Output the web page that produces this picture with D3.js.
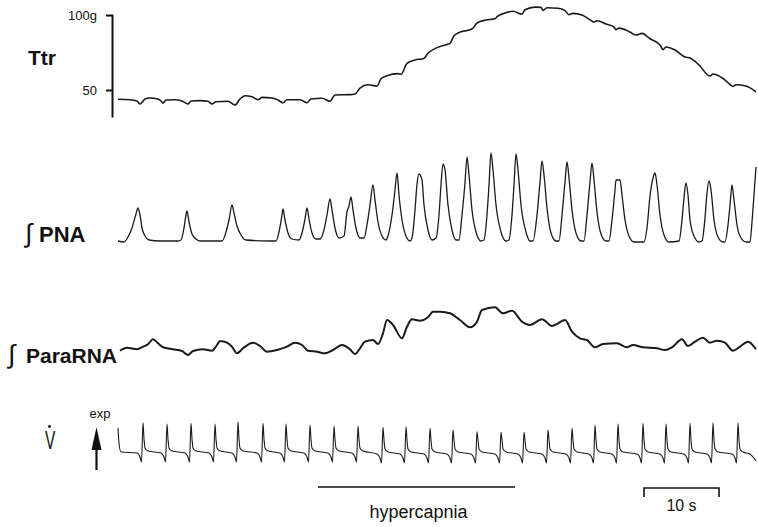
<!DOCTYPE html>
<html>
<head>
<meta charset="utf-8">
<script src="https://cdn.jsdelivr.net/npm/d3@7"></script>
<style>
  body { margin: 0; background: #fff; }
  svg text { font-family: "Liberation Sans", Arial, Helvetica, sans-serif; fill: #111; }
</style>
</head>
<body>
<svg id="chart" width="758" height="527"></svg>
<script>
// recording digitised at 7.5 samples per second, x values are sample indices
const sampleRate = 7.5

// tracheal tension (g)
const ttr = [
  [0, 43.8], [12, 43.5], [19, 42.7], [22, 40.7], [27, 44.0], [32, 44.7], [39, 44.2], [43, 42.7],
  [45, 41.3], [48, 43.3], [57, 43.5], [64, 42.7], [70, 40.7], [73, 42.7], [82, 42.9], [90, 42.5],
  [94, 40.7], [98, 42.2], [110, 42.5], [117, 40.0], [122, 44.0], [127, 46.2], [134, 45.5], [140, 43.5],
  [144, 45.1], [154, 44.7], [160, 43.3], [165, 41.5], [169, 43.5], [182, 43.5], [189, 41.5], [193, 44.0],
  [204, 44.5], [212, 42.5], [217, 46.7], [232, 46.9], [237, 47.3], [242, 51.3], [250, 53.5], [259, 52.7],
  [263, 57.5], [269, 59.5], [280, 60.9], [283, 60.5], [289, 67.8], [297, 70], [306, 71.1], [310, 74.5],
  [316, 77.3], [328, 80.2], [332, 81.1], [336, 86.2], [343, 88.9], [351, 90], [355, 91.3], [359, 94.7],
  [368, 96.7], [377, 97.5], [379, 98.9], [387, 101.3], [395, 102.5], [404, 100.5], [407, 103.5], [417, 105.3],
  [423, 105.1], [425, 103.1], [429, 104.9], [440, 104.5], [447, 102.9], [451, 100.2], [455, 101.1], [464, 100],
  [472, 96.9], [476, 95.3], [479, 96.2], [489, 93.8], [496, 92], [498, 90.2], [501, 91.3], [512, 88.7],
  [518, 86.7], [524, 87.8], [532, 84.2], [542, 80], [545, 76.9], [548, 78.7], [557, 76.7], [567, 72],
  [572, 71.3], [581, 66.7], [592, 59.3], [595, 60.7], [606, 57.3], [615, 52.5], [618, 53.5], [628, 52.7],
  [638, 48.7]
]
const ttrTicks = [50, 100]

// integrated phrenic nerve activity (a.u.)
const pna = [
  [0, 2], [6, 1], [10, 6], [14, 15], [18, 29], [20, 35], [22, 28], [24, 15], [27, 7], [31, 3], [42, 2],
  [60, 2], [63, 3], [66, 15], [68, 28], [69, 32], [71, 21], [74, 9], [78, 4], [82, 2],
  [104, 2], [108, 11], [111, 23], [114, 38], [116, 30], [119, 17], [123, 8], [128, 3], [152, 2],
  [158, 2], [161, 11], [164, 28], [165, 34], [167, 23], [170, 10], [174, 4],
  [181, 3], [184, 10], [187, 24], [189, 35], [191, 24], [194, 10], [198, 4],
  [202, 4], [206, 13], [209, 28], [212, 44], [214, 33], [217, 15], [221, 5],
  [226, 7], [229, 31], [231, 37], [233, 46], [235, 33], [238, 15], [242, 5],
  [246, 5], [249, 18], [252, 38], [255, 58], [257, 43], [260, 21], [264, 7], [268, 3],
  [270, 7], [274, 28], [277, 53], [279, 70], [281, 48], [284, 23], [288, 7], [292, 2],
  [294, 5], [297, 33], [299, 59], [301, 69], [304, 63], [306, 38], [310, 13], [314, 3],
  [318, 5], [321, 28], [323, 58], [325, 79], [327, 73], [330, 38], [334, 13], [338, 3],
  [341, 3], [344, 28], [347, 60], [349, 86], [351, 68], [354, 33], [358, 11], [363, 2],
  [366, 3], [369, 28], [371, 58], [373, 90], [375, 73], [378, 38], [383, 11], [388, 2],
  [391, 3], [394, 28], [396, 58], [398, 89], [400, 73], [403, 38], [408, 11], [412, 2],
  [415, 2], [419, 28], [422, 61], [424, 82], [426, 68], [429, 35], [433, 10], [438, 2],
  [441, 2], [444, 28], [447, 61], [449, 81], [451, 65], [454, 33], [458, 10], [463, 2],
  [466, 2], [469, 28], [472, 61], [474, 80], [476, 63], [479, 31], [483, 9], [488, 2],
  [491, 2], [494, 23], [497, 53], [498, 63], [502, 63], [504, 48], [507, 23], [511, 7], [516, 1],
  [526, 1], [529, 15], [532, 47], [535, 65], [537, 70], [539, 58], [542, 28], [546, 8], [551, 1],
  [561, 2], [564, 23], [566, 45], [568, 60], [570, 48], [572, 23], [576, 7], [581, 1],
  [584, 2], [587, 25], [589, 50], [591, 62], [593, 53], [596, 23], [600, 6], [605, 1],
  [607, 1], [610, 18], [612, 38], [614, 58], [616, 43], [619, 18], [623, 5], [628, 1],
  [632, 1], [634, 21], [636, 48], [638, 76]
]

// integrated parasympathetic nerve activity (a.u.)
const paraRna = [
  [2, 9.3], [9, 12.3], [19, 10.7], [25, 13.3], [30, 15.7], [35, 20.7], [40, 16.7], [45, 12.7],
  [55, 10.7], [64, 9], [70, 5], [75, 9], [85, 10.7], [94, 9.3], [99, 15], [102, 19],
  [109, 17.3], [114, 13.3], [119, 6.7], [125, 11.7], [135, 17.3], [142, 14], [149, 8.3], [159, 10],
  [169, 13.3], [177, 17.3], [184, 15], [190, 9.3], [199, 8.3], [207, 6.7], [215, 10], [224, 15],
  [232, 10.7], [237, 6], [242, 11.7], [247, 18.3], [255, 20], [260, 16], [265, 26.7], [269, 40],
  [275, 35], [284, 21.7], [289, 33.3], [294, 40.7], [302, 39.3], [310, 42.7], [315, 48.3], [322, 48.3],
  [332, 46.7], [342, 40], [352, 32.7], [359, 38.3], [364, 50], [377, 52.7], [385, 46.7], [394, 49.3],
  [404, 38.3], [412, 35], [424, 40.7], [434, 34], [440, 36.7], [447, 40], [454, 28.3], [462, 21.7],
  [469, 20], [477, 12.7], [485, 16], [499, 16.7], [509, 12.7], [515, 15], [525, 12.7], [539, 11.7],
  [547, 10], [554, 12.7], [564, 20.7], [570, 14], [577, 18.3], [585, 22.3], [592, 17.3], [599, 19.3],
  [607, 17.3], [615, 9.3], [622, 13.3], [630, 18.3], [638, 10.7]
]

// airflow, expiration upward (a.u.)
const vent = [
  [0, 37], [1, 22], [3, 13],
  [19, 12], [22, 8], [23.5, 3], [25, 42.3], [26, 26], [27, 17], [30, 14],
  [43, 12], [46, 8], [47.5, 3], [49, 41], [50, 26], [51, 17], [54, 14],
  [67, 12], [70, 8], [71.5, 3], [73, 41.7], [74, 26], [75, 17], [78, 14],
  [91, 12], [94, 8], [95.5, 3], [97, 41], [98, 26], [99, 17], [102, 14],
  [114, 12], [117, 8], [118.5, 3], [120, 43.3], [121, 26], [122, 17], [125, 14],
  [139, 12], [142, 8], [143.5, 3], [145, 41.7], [146, 26], [147, 17], [150, 14],
  [162, 12], [165, 8], [166.5, 3], [168, 41], [169, 26], [170, 17], [173, 14],
  [186, 12], [189, 8], [190.5, 3], [192, 40], [193, 26], [194, 17], [197, 14],
  [210, 12], [213, 8], [214.5, 3], [216, 39], [217, 26], [218, 17], [221, 14],
  [234, 12], [237, 8], [238.5, 3], [240, 39], [241, 26], [242, 17], [245, 14],
  [259, 11], [262, 7], [263.5, 2], [265, 37.7], [266, 25], [267, 16], [270, 13],
  [282, 11], [285, 7], [286.5, 2], [288, 38.3], [289, 25], [290, 16], [293, 13],
  [306, 11], [309, 7], [310.5, 2], [312, 36.7], [313, 25], [314, 16], [317, 13],
  [329, 11], [332, 7], [333.5, 2], [335, 35], [336, 25], [337, 16], [340, 13],
  [353, 11], [356, 7], [357.5, 2], [359, 33.3], [360, 25], [361, 16], [364, 13],
  [377, 11], [380, 7], [381.5, 2], [383, 32.7], [384, 25], [385, 16], [388, 13],
  [400, 11], [403, 7], [404.5, 2], [406, 32.7], [407, 25], [408, 16], [411, 13],
  [424, 11], [427, 7], [428.5, 2], [430, 35], [431, 25], [432, 16], [435, 13],
  [448, 11], [451, 7], [452.5, 2], [454, 36.7], [455, 25], [456, 16], [459, 13],
  [471, 11], [474, 7], [475.5, 2], [477, 40], [478, 25], [479, 16], [482, 13],
  [494, 11], [497, 7], [498.5, 2], [500, 41], [501, 25], [502, 16], [505, 13],
  [519, 11], [522, 7], [523.5, 2], [525, 41.7], [526, 25], [527, 16], [530, 13],
  [542, 11], [545, 7], [546.5, 2], [548, 41], [549, 25], [550, 16], [553, 13],
  [566, 11], [569, 7], [570.5, 2], [572, 41.7], [573, 25], [574, 16], [577, 13],
  [589, 11], [592, 7], [593.5, 2], [595, 42.3], [596, 25], [597, 16], [600, 13],
  [614, 11], [617, 7], [618.5, 2], [620, 42.3], [621, 25], [622, 16], [625, 13],
  [632, 11], [635, 8], [638, 4]
]

// hypercapnia period and 10 s scale bar, in samples
const hypercapnia = [200, 397]
const scaleBarStart = 526
const scaleBarSeconds = 10

const svg = d3.select('#chart')
const x = d3.scaleLinear().domain([0, 638]).range([118, 756])

const traces = [
  {data: ttr, y: d3.scaleLinear().domain([32, 100.7]).range([117, 14]), width: 1.6},
  {data: pna, y: d3.scaleLinear().domain([0, 100]).range([243, 143]), width: 1.3},
  {data: paraRna, y: d3.scaleLinear().domain([0, 100]).range([360, 260]), width: 2},
  {data: vent, y: d3.scaleLinear().domain([0, 50]).range([465, 415]), width: 1.1}
]

traces.forEach(trace => {
  const line = d3.line()
    .x(d => x(d[0]))
    .y(d => trace.y(d[1]))
    .curve(d3.curveMonotoneX)
  svg.append('path')
    .datum(trace.data)
    .attr('fill', 'none')
    .attr('stroke', '#1a1a1a')
    .attr('stroke-width', trace.width)
    .attr('stroke-linejoin', 'round')
    .attr('d', line)
})

// Ttr axis
svg.append('g')
  .attr('transform', 'translate(112,0)')
  .call(d3.axisLeft(traces[0].y)
    .tickValues(ttrTicks)
    .tickSize(6)
    .tickSizeOuter(0)
    .tickPadding(9)
    .tickFormat(d => d === 100 ? '100g' : d))
  .call(g => g.selectAll('path, line').attr('stroke', '#111').attr('stroke-width', 2))
  .call(g => g.selectAll('text').attr('font-size', 13).attr('font-family', '"Liberation Sans", Arial, sans-serif'))

// trace labels
svg.append('text').attr('x', 28).attr('y', 65).attr('font-size', 21).attr('font-weight', 'bold').text('Ttr')
svg.append('text').attr('x', 25).attr('y', 242).attr('font-size', 26).attr('font-family', 'DejaVu Sans').text('∫')
svg.append('text').attr('x', 39).attr('y', 242).attr('font-size', 22).attr('font-weight', 'bold').text('PNA')
svg.append('text').attr('x', 8).attr('y', 363).attr('font-size', 26).attr('font-family', 'DejaVu Sans').text('∫')
svg.append('text').attr('x', 26).attr('y', 363).attr('font-size', 21).attr('font-weight', 'bold').text('ParaRNA')

// V dot label
svg.append('text')
  .attr('transform', 'translate(45,449) scale(0.62,1)')
  .attr('font-size', 25)
  .text('V')
svg.append('circle').attr('cx', 49.5).attr('cy', 426.5).attr('r', 1.4).attr('fill', '#111')

// expiration arrow
svg.append('text').attr('x', 100).attr('y', 418).attr('text-anchor', 'middle').attr('font-size', 13).text('exp')
svg.append('path')
  .attr('d', 'M96.5,427 L101.5,450 L91.5,450 Z')
  .attr('fill', '#111')
svg.append('line')
  .attr('x1', 96.5).attr('x2', 96.5).attr('y1', 448).attr('y2', 470)
  .attr('stroke', '#111').attr('stroke-width', 2.2)

// hypercapnia bar
svg.append('line')
  .attr('x1', x(hypercapnia[0])).attr('x2', x(hypercapnia[1]))
  .attr('y1', 487).attr('y2', 487)
  .attr('stroke', '#111').attr('stroke-width', 1.6)
svg.append('text')
  .attr('x', (x(hypercapnia[0]) + x(hypercapnia[1])) / 2 + 2)
  .attr('y', 518)
  .attr('text-anchor', 'middle')
  .attr('font-size', 18)
  .text('hypercapnia')

// 10 s scale bar
const barEnd = scaleBarStart + scaleBarSeconds * sampleRate
svg.append('path')
  .attr('d', `M${x(scaleBarStart)},497 V488 H${x(barEnd)} V497`)
  .attr('fill', 'none')
  .attr('stroke', '#111')
  .attr('stroke-width', 1.6)
svg.append('text')
  .attr('x', (x(scaleBarStart) + x(barEnd)) / 2)
  .attr('y', 511)
  .attr('text-anchor', 'middle')
  .attr('font-size', 16)
  .text(scaleBarSeconds + ' s')
</script>
</body>
</html>
